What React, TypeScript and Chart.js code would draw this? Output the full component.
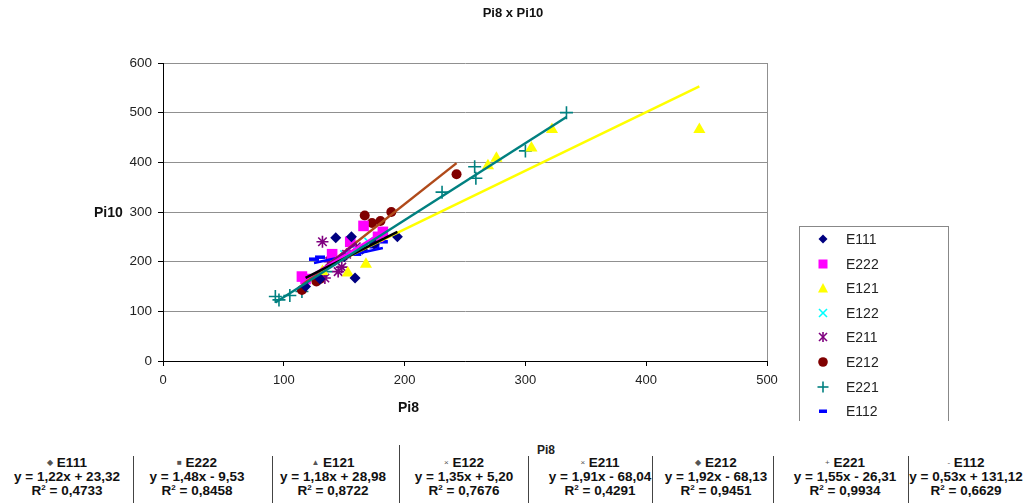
import React, { useEffect, useRef } from "react";
import { Chart, registerables } from "chart.js";

Chart.register(...registerables);

const seriesNames = ["E111", "E222", "E121", "E122", "E211", "E212", "E221", "E112"];

const e111: [number, number][] = [[118, 150], [130, 165], [143, 248], [150, 210], [156, 250], [159, 167], [165, 225], [175, 235], [194, 250]];
const e222: [number, number][] = [[115, 170], [118, 165], [140, 215], [155, 240], [166, 272], [178, 250], [182, 260]];
const e121: [number, number][] = [[132, 180], [153, 177], [168, 195], [269, 393], [276, 408], [305, 429], [322, 466], [444, 466]];
const e122: [number, number][] = [[140, 200], [150, 215], [160, 225], [170, 240]];
const e211: [number, number][] = [[132, 240], [134, 167], [138, 200], [140, 209], [145, 180], [148, 189], [152, 215], [160, 230]];
const e212: [number, number][] = [[115, 143], [127, 160], [130, 165], [167, 293], [173, 278], [180, 282], [189, 300], [243, 376]];
const e221: [number, number][] = [[93, 130], [96, 123], [105, 132], [115, 140], [128, 165], [135, 180], [231, 340], [258, 391], [259, 368], [300, 423], [334, 500]];
const e112: [number, number][] = [[125, 205], [130, 209], [140, 200], [150, 210], [160, 215], [165, 222], [175, 230], [182, 240]];

const seriesData = [e111, e222, e121, e122, e211, e212, e221, e112];

const slopes = [1.22, 1.48, 1.18, 1.35, 1.91, 1.92, 1.55, 0.53];
const intercepts = [23.32, -9.53, 28.98, 5.2, -68.04, -68.13, -26.31, 131.12];
const rSquared = ["0,4733", "0,8458", "0,8722", "0,7676", "0,4291", "0,9451", "0,9934", "0,6629"];

const xTicks = [0, 100, 200, 300, 400, 500];
const yTicks = [0, 100, 200, 300, 400, 500, 600];

const pointColors = ["#000080", "#FF00FF", "#FFFF00", "#00FFFF", "#800080", "#800000", "#008080", "#0000FF"];
const trendColors = ["#000000", "#FF00FF", "#FFFF00", "#00FFFF", "#800080", "#B04A1A", "#008080", "#0000FF"];
const pointStyles = ["rectRot", "rect", "triangle", "crossRot", "star", "circle", "cross", "line"];
const pointRadii = [5.5, 7.5, 7, 5.5, 6, 5, 6.5, 5];
const tableSymbols = ["◆", "■", "▲", "×", "×", "◆", "+", "-"];
const tableCenters = [67, 197, 333, 464, 600, 716, 845, 966];
const tableSeps = [133, 272, 399, 528, 652, 773, 908];

const fmt = (v: number) => Math.abs(v).toFixed(2).replace(".", ",");
const eqText = (i: number) =>
  `y = ${fmt(slopes[i])}x ${intercepts[i] < 0 ? "-" : "+"} ${fmt(intercepts[i])}`;

const FONT = "'Liberation Sans', Arial, sans-serif";

function LegendMarker({ i }: { i: number }) {
  const c = pointColors[i];
  const s = 12;
  let el: React.ReactNode = null;
  switch (pointStyles[i]) {
    case "rectRot":
      el = <polygon points="6,1.5 10.5,6 6,10.5 1.5,6" fill={c} />;
      break;
    case "rect":
      el = <rect x={1.5} y={1.5} width={9} height={9} fill={c} />;
      break;
    case "triangle":
      el = <polygon points="6,1 11,10.5 1,10.5" fill={c} />;
      break;
    case "crossRot":
      el = (
        <g stroke={c} strokeWidth={1.6}>
          <line x1={2} y1={2} x2={10} y2={10} />
          <line x1={10} y1={2} x2={2} y2={10} />
        </g>
      );
      break;
    case "star":
      el = (
        <g stroke={c} strokeWidth={1.6}>
          <line x1={2} y1={2} x2={10} y2={10} />
          <line x1={10} y1={2} x2={2} y2={10} />
          <line x1={6} y1={1} x2={6} y2={11} />
        </g>
      );
      break;
    case "circle":
      el = <circle cx={6} cy={6} r={4.8} fill={c} />;
      break;
    case "cross":
      el = (
        <g stroke={c} strokeWidth={1.6}>
          <line x1={6} y1={0.5} x2={6} y2={11.5} />
          <line x1={0.5} y1={6} x2={11.5} y2={6} />
        </g>
      );
      break;
    case "line":
      el = <rect x={2} y={4.5} width={8} height={3.5} fill={c} />;
      break;
  }
  return (
    <svg width={s} height={s} style={{ display: "block" }}>
      {el}
    </svg>
  );
}

export default function App() {
  const ref = useRef<HTMLCanvasElement | null>(null);

  useEffect(() => {
    if (!ref.current) return;
    const scatterSets = seriesNames.map((name, i) => ({
      type: "scatter" as const,
      label: name,
      data: seriesData[i].map(([x, y]) => ({ x, y })),
      pointStyle: pointStyles[i] as any,
      pointRadius: pointRadii[i],
      backgroundColor: pointColors[i],
      borderColor: pointColors[i],
      borderWidth: pointStyles[i] === "line" ? 3.5 : pointStyles[i] === "cross" || pointStyles[i] === "crossRot" || pointStyles[i] === "star" ? 1.6 : 0,
      order: 1,
    }));
    const trendSets = seriesNames.map((name, i) => {
      const xs = seriesData[i].map((p) => p[0]);
      const x0 = Math.min(...xs);
      const x1 = Math.max(...xs);
      return {
        type: "line" as const,
        label: name + " trend",
        data: [
          { x: x0, y: slopes[i] * x0 + intercepts[i] },
          { x: x1, y: slopes[i] * x1 + intercepts[i] },
        ],
        borderColor: trendColors[i],
        backgroundColor: trendColors[i],
        borderWidth: 2.5,
        pointRadius: 0,
        fill: false,
        order: i === 6 ? -1 : 0,
      };
    });

    const chart = new Chart(ref.current, {
      type: "scatter",
      data: { datasets: [...trendSets, ...scatterSets] as any },
      options: {
        animation: false,
        responsive: false,
        maintainAspectRatio: false,
        layout: { padding: { top: 63, right: 259, left: 0, bottom: 0 } },
        plugins: {
          legend: { display: false },
          title: { display: false },
          tooltip: { enabled: false },
        },
        scales: {
          x: {
            type: "linear",
            min: 0,
            max: 500,
            afterBuildTicks: (s: any) => {
              s.ticks = xTicks.map((v) => ({ value: v }));
            },
            afterFit: (s: any) => {
              s.height = 142;
            },
            ticks: {
              font: { family: FONT, size: 13 },
              color: "#222",
              padding: 7,
              maxRotation: 0,
            },
            grid: {
              color: (ctx: any) => (ctx.tick && ctx.tick.value === 500 ? "#909090" : "rgba(0,0,0,0)"),
              tickColor: "#000",
              tickLength: 5,
              lineWidth: 1,
            },
            border: { color: "#000", width: 1 },
          },
          y: {
            type: "linear",
            min: 0,
            max: 600,
            afterBuildTicks: (s: any) => {
              s.ticks = yTicks.map((v) => ({ value: v }));
            },
            afterFit: (s: any) => {
              s.width = 163;
            },
            ticks: {
              font: { family: FONT, size: 13.5 },
              color: "#222",
              padding: 6,
            },
            grid: {
              color: "#909090",
              tickColor: "#000",
              tickLength: 5,
              lineWidth: 1,
            },
            border: { color: "#000", width: 1 },
          },
        },
      },
    });
    return () => chart.destroy();
  }, []);

  return (
    <div style={{ position: "absolute", left: 0, top: 0, width: 1026, height: 503, background: "#fff", fontFamily: FONT, overflow: "hidden" }}>
      <canvas ref={ref} width={1026} height={503} style={{ position: "absolute", left: 0, top: 0 }} />
      <div style={{ position: "absolute", left: 0, width: 1026, top: 5, textAlign: "center", fontWeight: "bold", fontSize: 13, color: "#111" }}>
        Pi8 x Pi10
      </div>
      <div style={{ position: "absolute", left: 94, top: 204, fontWeight: "bold", fontSize: 14, color: "#111" }}>Pi10</div>
      <div style={{ position: "absolute", left: 398, top: 399, fontWeight: "bold", fontSize: 14, color: "#111" }}>Pi8</div>

      <div style={{ position: "absolute", left: 799, top: 226, width: 148, height: 200, borderLeft: "1px solid #888", borderRight: "1px solid #888", borderTop: "1px solid #888" }} />
      {seriesNames.map((name, i) => {
        const cy = 239 + i * 24.6;
        return (
          <React.Fragment key={name}>
            <div style={{ position: "absolute", left: 817, top: cy - 6 }}>
              <LegendMarker i={i} />
            </div>
            <div style={{ position: "absolute", left: 846, top: cy - 8, fontSize: 14, lineHeight: "16px", color: "#222" }}>{name}</div>
          </React.Fragment>
        );
      })}

      <div style={{ position: "absolute", left: 0, top: 421, width: 1026, height: 82, background: "#fff" }} />
      {tableSeps.map((x, i) => (
        <div key={"s" + i} style={{ position: "absolute", left: x, top: i === 2 ? 445 : 456, width: 1, height: i === 2 ? 58 : 47, background: "#444" }} />
      ))}
      <div style={{ position: "absolute", left: 537, top: 444, fontWeight: "bold", fontSize: 12, lineHeight: "12px", color: "#222", height: 10, overflow: "hidden" }}>Pi8</div>
      {seriesNames.map((name, i) => (
        <div key={"t" + name} style={{ position: "absolute", left: tableCenters[i] - 75, width: 150, top: 456, textAlign: "center", fontWeight: "bold", fontSize: 13.5, lineHeight: "14px", color: "#111", whiteSpace: "nowrap" }}>
          <div>
            <span style={{ fontSize: 8, color: "#555", fontWeight: "normal", verticalAlign: "middle" }}>{tableSymbols[i]}</span> {name}
          </div>
          <div>{eqText(i)}</div>
          <div>
            R<sup style={{ fontSize: 8, lineHeight: 0 }}>2</sup> = {rSquared[i]}
          </div>
        </div>
      ))}
    </div>
  );
}
